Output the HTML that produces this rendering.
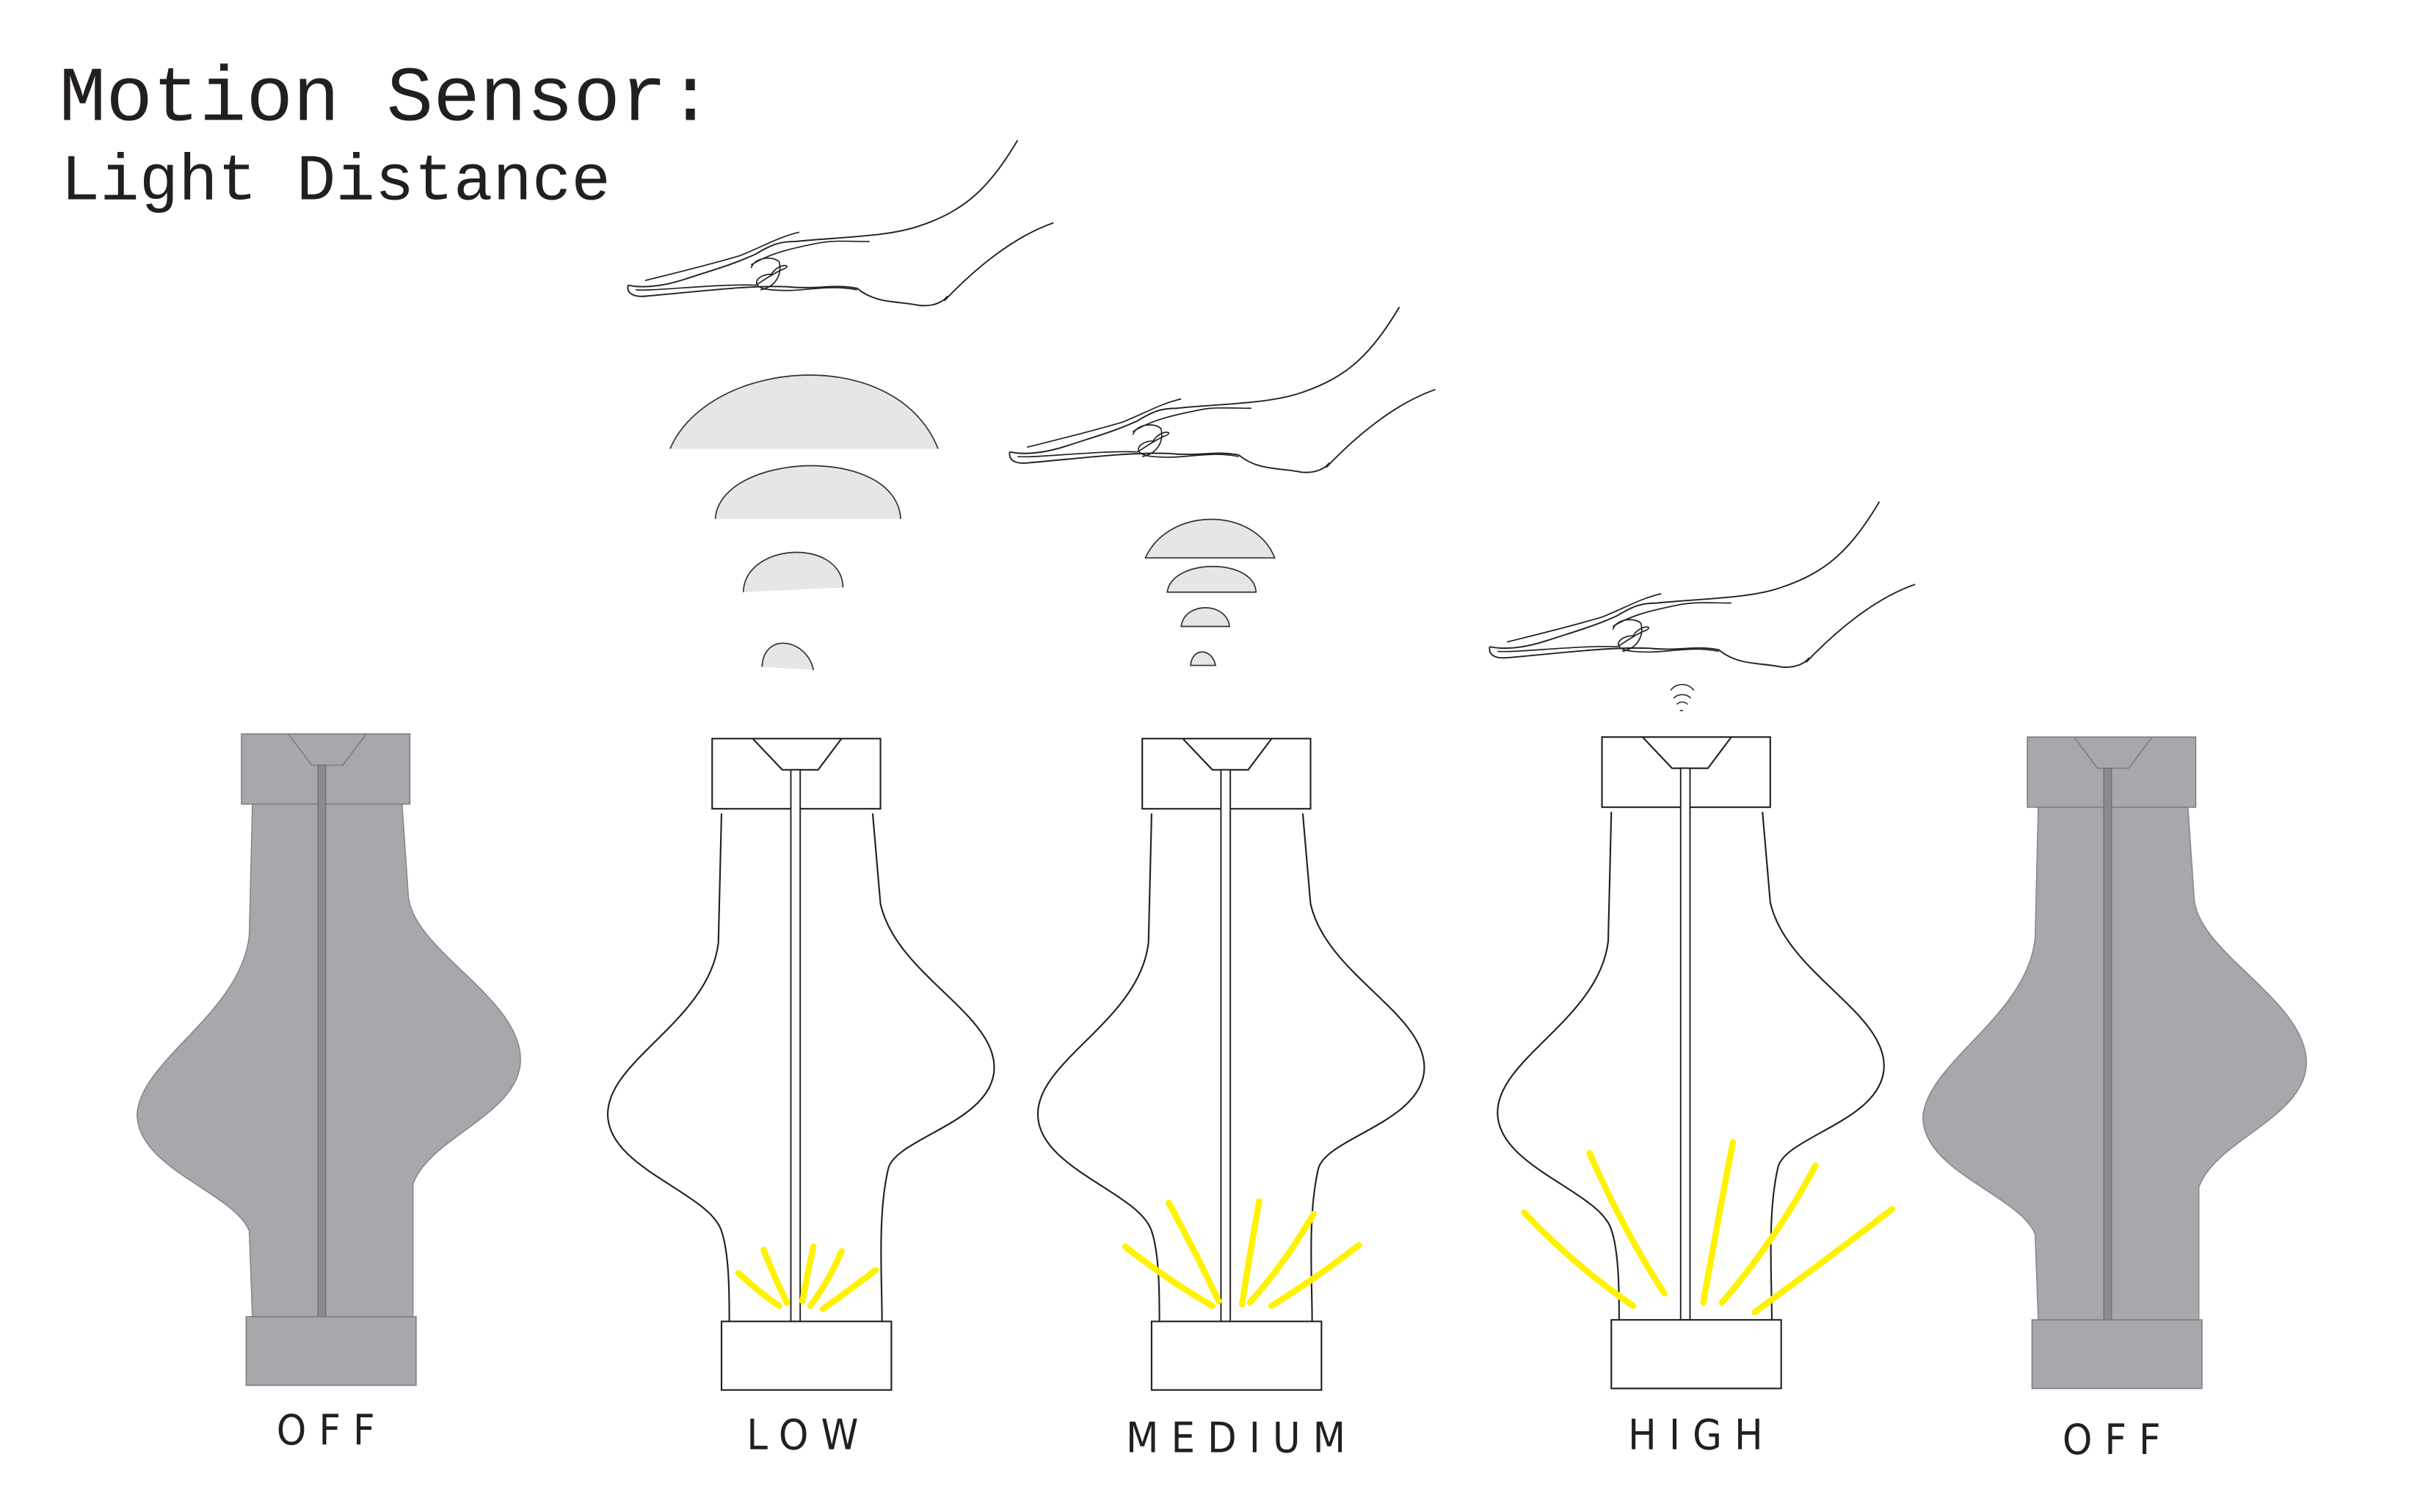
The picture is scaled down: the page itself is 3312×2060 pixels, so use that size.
<!DOCTYPE html>
<html><head><meta charset="utf-8"><style>
html,body{margin:0;padding:0;background:#fff;}
svg{display:block;}
</style></head><body>
<svg width="3312" height="2060" viewBox="0 0 1560 970.3" preserveAspectRatio="none" xmlns="http://www.w3.org/2000/svg">
<defs>
<g id="hand">
<path d="M253,90 C235,120 220,135 190,145 C170,152 140,152 110,155 C100,155 95,157 85,163 C70,170 55,174 40,179 C25,184 12,185 3,183" fill="none" stroke="#222" stroke-width="0.9"/>
<path d="M3,183 C2,188 6,191 15,190 C50,187 80,183 105,184 C125,186 135,182 150,185 C162,195 175,193 190,196 C200,197 206,193 208,190" fill="none" stroke="#222" stroke-width="0.9"/>
<path d="M206,193 C225,173 250,152 276,143" fill="none" stroke="#222" stroke-width="0.9"/>
<path d="M8,186 C20,187 60,182 85,183 C90,180 95,176 102,173 C110,170 100,168 95,176 C85,176 80,185 95,186 C115,188 130,182 150,186" fill="none" stroke="#222" stroke-width="0.8"/>
<path d="M82,170 C95,162 110,159 125,156 C135,154 145,155 158,155" fill="none" stroke="#222" stroke-width="0.8"/>
<path d="M14,180 C30,176 55,170 75,164 C90,158 100,152 113,149" fill="none" stroke="#222" stroke-width="0.8"/>
<path d="M82,172 C84,165 96,164 100,168 C102,176 98,184 88,186" fill="none" stroke="#222" stroke-width="0.8"/>
</g>
</defs>

<text x="38" y="77" font-family="Liberation Mono, monospace" font-size="50" fill="#231f20">Motion Sensor:</text>
<text x="39" y="128" font-family="Liberation Mono, monospace" font-size="42" fill="#231f20">Light Distance</text>

<use href="#hand" x="400" y="0"/>
<use href="#hand" x="645" y="107"/>
<use href="#hand" x="953" y="232"/>

<g fill="#e6e6e7" stroke="#333" stroke-width="0.8">
<path d="M430,288 C455,230 575,220 602,288 Z" stroke="none"/><path d="M430,288 C455,230 575,220 602,288" fill="none"/>
<path d="M459,333 C462,290 575,285 578,333 Z" stroke="none"/><path d="M459,333 C462,290 575,285 578,333" fill="none"/>
<path d="M477,380 C478,348 540,345 541,377 Z" stroke="none"/><path d="M477,380 C478,348 540,345 541,377" fill="none"/>
<path d="M489,428 C490,405 518,410 522,430 Z" stroke="none"/><path d="M489,428 C490,405 518,410 522,430" fill="none"/>
</g>
<g fill="#e6e6e7" stroke="#333" stroke-width="0.8">
<path d="M735,358 C750,325 805,325 818,358 Z"/>
<path d="M749,380 C752,358 805,358 806,380 Z"/>
<path d="M758,402 C760,386 787,386 789,402 Z"/>
<path d="M764,427 C765,415 778,416 780,427 Z"/>
</g>
<g fill="none" stroke="#333" stroke-width="0.8">
<path d="M1072,443 C1076,438 1083,438 1087,443"/>
<path d="M1074,448 C1077,445 1082,445 1085,448"/>
<path d="M1076,452 C1078,450 1081,450 1083,452"/>
<path d="M1078,456 L1080,456"/>
</g>

<g>
<path d="M162,516 L160,600 C155,650 90,680 88,715 C88,750 150,765 160,790 L162,845 L265,845 L265,760 C275,730 334,715 334,680 C334,640 265,610 262,575 L258,516 Z" fill="#a7a8ab" stroke="#8a8b8e" stroke-width="0.8"/>
<rect x="155" y="471" width="108" height="45" fill="#a7a8ab" stroke="#808184" stroke-width="0.8"/>
<path d="M185,471 L200,491 L220,491 L235,471" fill="none" stroke="#808184" stroke-width="0.8"/>
<rect x="204" y="491" width="5" height="354" fill="#8a8b8e" stroke="#6d6e71" stroke-width="0.6"/>
<rect x="158" y="845" width="109" height="44" fill="#a7a8ab" stroke="#808184" stroke-width="0.8"/>
<text x="213" y="927" text-anchor="middle" font-family="DejaVu Sans Condensed, Liberation Sans, sans-serif" font-size="27" letter-spacing="8" fill="#231f20">OFF</text>
</g>

<g transform="translate(1146,2)">
<path d="M162,516 L160,600 C155,650 90,680 88,715 C88,750 150,765 160,790 L162,845 L265,845 L265,760 C275,730 334,715 334,680 C334,640 265,610 262,575 L258,516 Z" fill="#a7a8ab" stroke="#8a8b8e" stroke-width="0.8"/>
<rect x="155" y="471" width="108" height="45" fill="#a7a8ab" stroke="#808184" stroke-width="0.8"/>
<path d="M185,471 L200,491 L220,491 L235,471" fill="none" stroke="#808184" stroke-width="0.8"/>
<rect x="204" y="491" width="5" height="354" fill="#8a8b8e" stroke="#6d6e71" stroke-width="0.6"/>
<rect x="158" y="845" width="109" height="44" fill="#a7a8ab" stroke="#808184" stroke-width="0.8"/>
<text x="213" y="931" text-anchor="middle" font-family="DejaVu Sans Condensed, Liberation Sans, sans-serif" font-size="27" letter-spacing="8" fill="#231f20">OFF</text>
</g>

<g id="lampOutline">
<path d="M463,522 L461,605 C455,655 390,680 390,715 C390,750 455,765 463,790 C468,805 468,830 468,848" fill="none" stroke="#231f20" stroke-width="1"/>
<path d="M560,522 L565,580 C575,625 638,650 638,685 C638,720 575,730 570,750 C563,780 566,820 566,848" fill="none" stroke="#231f20" stroke-width="1"/>
<rect x="457" y="474" width="108" height="45" fill="#fff" stroke="#231f20" stroke-width="1"/>
<path d="M483,474 L502,494 L525,494 L540,474" fill="none" stroke="#231f20" stroke-width="1"/>
<rect x="507.5" y="494" width="6" height="354" fill="#fff" stroke="#231f20" stroke-width="0.9"/>
<rect x="463" y="848" width="109" height="44" fill="#fff" stroke="#231f20" stroke-width="1"/>
</g>
<text x="519" y="930" text-anchor="middle" font-family="DejaVu Sans Condensed, Liberation Sans, sans-serif" font-size="27" letter-spacing="8" fill="#231f20">LOW</text>
<use href="#lampOutline" x="276" y="0"/>
<text x="797" y="932" text-anchor="middle" font-family="DejaVu Sans Condensed, Liberation Sans, sans-serif" font-size="27" letter-spacing="8" fill="#231f20">MEDIUM</text>
<use href="#lampOutline" x="571" y="-1"/>
<text x="1092" y="930" text-anchor="middle" font-family="DejaVu Sans Condensed, Liberation Sans, sans-serif" font-size="27" letter-spacing="8" fill="#231f20">HIGH</text>

<g fill="none" stroke="#fff200" stroke-width="4" stroke-linecap="round">
<path d="M474,817 Q488,830 500,838"/><path d="M490,802 Q498,822 505,836"/><path d="M522,800 Q518,818 515,835"/><path d="M540,803 Q532,822 520,838"/><path d="M562,815 Q545,828 528,840"/>
</g>
<g fill="none" stroke="#fff200" stroke-width="4" stroke-linecap="round">
<path d="M722,800 Q750,822 778,838"/><path d="M750,772 Q768,805 782,835"/><path d="M808,771 Q802,805 797,837"/><path d="M843,779 Q825,810 802,836"/><path d="M872,799 Q845,820 816,838"/>
</g>
<g fill="none" stroke="#fff200" stroke-width="4" stroke-linecap="round">
<path d="M978,778 Q1010,812 1048,838"/><path d="M1020,740 Q1042,790 1068,830"/><path d="M1112,733 Q1102,785 1093,836"/><path d="M1165,748 Q1140,795 1105,836"/><path d="M1214,776 Q1170,810 1126,842"/>
</g>
</svg>
</body></html>
